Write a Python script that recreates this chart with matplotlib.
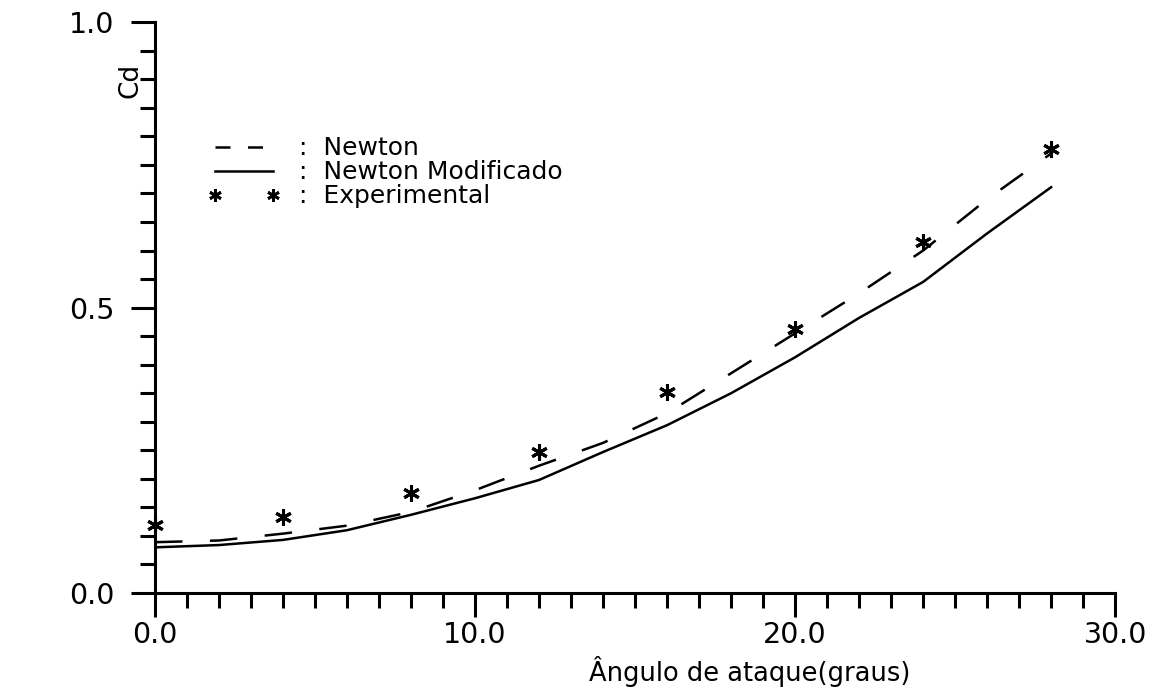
import numpy as np
import matplotlib.pyplot as plt
from matplotlib.lines import Line2D
from matplotlib.ticker import MultipleLocator

# valores
angulo = [0, 2, 4, 6, 8, 10, 12, 14, 16, 18, 20, 22, 24, 26, 28]
cd_newton = [0.089, 0.092, 0.104, 0.118, 0.142, 0.180, 0.223, 0.263, 0.315,
             0.385, 0.455, 0.525, 0.600, 0.690, 0.770]
cd_newton_mod = [0.080, 0.084, 0.093, 0.110, 0.137, 0.166, 0.198, 0.247, 0.294,
                 0.350, 0.413, 0.482, 0.545, 0.630, 0.711]

angulo_exp = [0, 4, 8, 12, 16, 20, 24, 28]
cd_exp = [0.119, 0.133, 0.175, 0.247, 0.352, 0.462, 0.615, 0.778]

xticks = [0, 10, 20, 30]
xtick_labels = ["0.0", "10.0", "20.0", "30.0"]
yticks = [0, 0.5, 1.0]
ytick_labels = ["0.0", "0.5", "1.0"]

plt.rcParams['font.family'] = ['DejaVu Sans']

fig = plt.figure(figsize=(11.52, 6.96), dpi=100)
ax = fig.add_axes([0.1345, 0.148, 0.8335, 0.820])

ax.plot(angulo, cd_newton, color='black', lw=1.8, dashes=(11, 11))
ax.plot(angulo, cd_newton_mod, color='black', lw=1.8)
ax.plot(angulo_exp, cd_exp, ls='none', marker=(6, 2, 0), ms=12, mew=2.2,
        color='black', clip_on=False)

ax.set_xlim(0, 30)
ax.set_ylim(0, 1.0)
ax.set_xticks(xticks)
ax.set_xticklabels(xtick_labels)
ax.set_yticks(yticks)
ax.set_yticklabels(ytick_labels)
ax.xaxis.set_minor_locator(MultipleLocator(1))
ax.yaxis.set_minor_locator(MultipleLocator(0.05))

for s in ['top', 'right']:
    ax.spines[s].set_visible(False)
for s in ['left', 'bottom']:
    ax.spines[s].set_linewidth(2.2)

ax.tick_params(which='major', direction='out', length=17, width=2.2,
               labelsize=20.5, colors='black')
ax.tick_params(axis='x', which='major', pad=3)
ax.tick_params(axis='y', which='major', pad=12)
ax.tick_params(which='minor', direction='out', length=10.5, width=2.2)

ax.set_xlabel("Ângulo de ataque(graus)", fontsize=18.5)
ax.xaxis.set_label_coords(0.619, -0.11)
ax.set_ylabel("Cd", fontsize=19)
ax.yaxis.set_label_coords(-0.012, 0.898)

# legenda com handles proprios (tracos e dois asteriscos)
h1 = Line2D([], [], color='black', lw=1.8, dashes=(6, 7))
h2 = Line2D([], [], color='black', lw=1.8)
h3 = Line2D([], [], ls='none', marker=(6, 2, 0), ms=9, mew=2, color='black')
ax.legend([h1, h2, h3], [":  Newton", ":  Newton Modificado", ":  Experimental"],
          loc='upper left', bbox_to_anchor=(0.055, 0.80), frameon=False,
          fontsize=18, handlelength=2.9, handletextpad=0.75, labelspacing=0.0,
          borderpad=0, borderaxespad=0, numpoints=2)

plt.savefig("out.png", dpi=100)
